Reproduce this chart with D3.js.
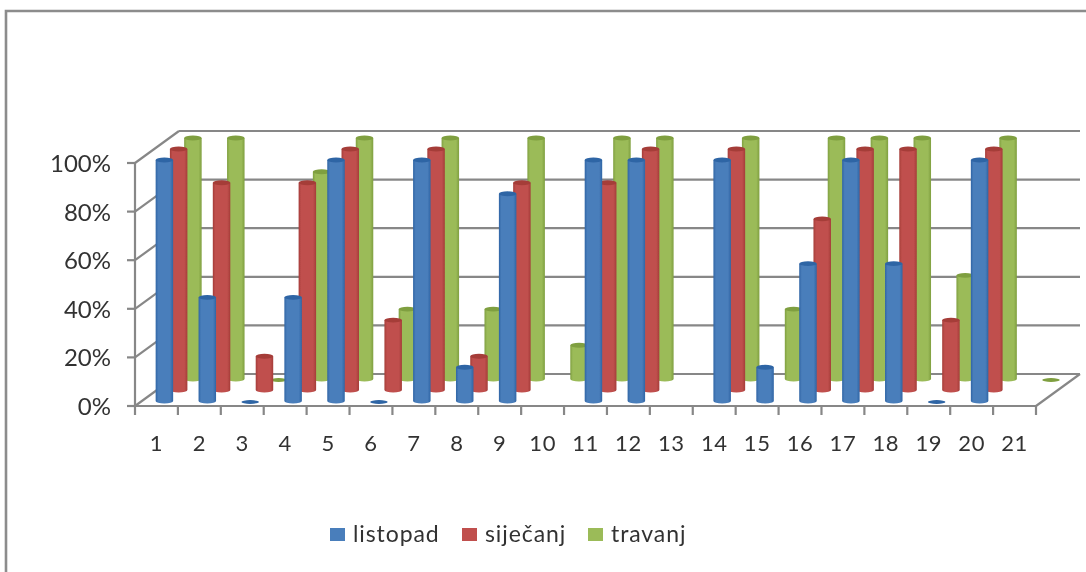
<!DOCTYPE html>
<html>
<head>
<meta charset="utf-8">
<script src="https://cdn.jsdelivr.net/npm/d3@7/dist/d3.min.js"></script>
<style>
html,body{margin:0;padding:0;background:#fff;overflow:hidden}
svg{display:block}
text{font-family:Lato,"Open Sans",sans-serif;fill:#333}
</style>
</head>
<body>
<svg id="c" width="1086" height="572"></svg>
<script>
const categories = d3.range(1, 22).map(String);
const seriesNames = ["listopad", "siječanj", "travanj"];
const listopad = [100,43,0,43,100,0,100,14,86,null,100,100,null,100,14,57,100,57,0,100,null];
const sijecanj = [100,86,14,86,100,29,100,14,86,null,86,100,null,100,null,71,100,100,29,100,null];
const travanj  = [100,100,0,86,100,29,100,29,100,14,100,100,null,100,29,100,100,100,43,100,0];
const seriesValues = [listopad, sijecanj, travanj];
const seriesColors = ["#4a7ebb", "#c0504d", "#9bbb59"];
const seriesDark   = ["#2f65a5", "#a53c39", "#7f9f3f"];
const yTicks = [0,20,40,60,80,100];

const svg = d3.select("#c");
const defs = svg.append("defs");
const blur = defs.append("filter").attr("id","soft").attr("x","-5%").attr("y","-5%").attr("width","110%").attr("height","110%");
blur.append("feGaussianBlur").attr("stdDeviation",0.55);

seriesColors.forEach((c,k)=>{
  const g = defs.append("linearGradient").attr("id","cyl"+k);
  const c0 = d3.color(c);
  g.append("stop").attr("offset","0%").attr("stop-color",seriesDark[k]);
  g.append("stop").attr("offset","15%").attr("stop-color",c0.formatHex());
  g.append("stop").attr("offset","82%").attr("stop-color",c0.formatHex());
  g.append("stop").attr("offset","100%").attr("stop-color",seriesDark[k]);
});

const root = svg.append("g").attr("filter","url(#soft)");

// page frame
root.append("path").attr("d", d3.line()([[6,572],[6,11],[1086,11]]))
  .attr("fill","none").attr("stroke","#8c8c8c").attr("stroke-width",2.6);

// scales
const x = d3.scaleLinear().domain([0,21]).range([135,1036]);
const y = d3.scaleLinear().domain([0,100]).range([406,163]);
const barY = d3.scaleLinear().domain([0,100]).range([401,160]);
const serX = d3.scalePoint().domain([0,1,2]).range([8,36.5]);
const serY = d3.scalePoint().domain([0,1,2]).range([0,22]);
const wallDx = 44, wallDy = 32;
const gridColor = "#878787";

// walls and gridlines
const grid = root.append("g").attr("stroke",gridColor).attr("stroke-width",2.2).attr("fill","none");
yTicks.forEach(t=>{
  const yy = y(t);
  grid.append("line").attr("x1",x(0)+wallDx).attr("x2",x(21)+wallDx).attr("y1",yy-wallDy).attr("y2",yy-wallDy);
  grid.append("line").attr("x1",x(0)).attr("x2",x(0)+wallDx).attr("y1",yy).attr("y2",yy-wallDy);
  grid.append("line").attr("x1",x(0)-8).attr("x2",x(0)).attr("y1",yy).attr("y2",yy);
});
grid.append("line").attr("x1",x(0)).attr("x2",x(0)).attr("y1",y(100)).attr("y2",y(0));
grid.append("line").attr("x1",x(0)).attr("x2",x(21)).attr("y1",y(0)).attr("y2",y(0));
grid.append("line").attr("x1",x(21)).attr("x2",x(21)+wallDx).attr("y1",y(0)).attr("y2",y(0)-wallDy);
d3.range(0,22).forEach(i=>{
  grid.append("line").attr("x1",x(i)).attr("x2",x(i)).attr("y1",y(0)).attr("y2",y(0)+9);
});

// cylinders, back series first
const bw = 17.5, ry = 2.4;
[2,1,0].forEach(k=>{
  const g = root.append("g");
  seriesValues[k].forEach((v,i)=>{
    if(v===null) return;
    const cx = x(i)+serX(k)+21.4;
    const y0 = barY(0)-serY(k), y1 = barY(v)-serY(k);
    if(v===0){
      g.append("ellipse").attr("cx",cx).attr("cy",y0+1).attr("rx",bw/2).attr("ry",ry-0.5).attr("fill",seriesDark[k]);
      return;
    }
    const l = cx-bw/2, r = cx+bw/2;
    g.append("path")
      .attr("d",`M${l},${y1}L${l},${y0}A${bw/2},${ry} 0 0 0 ${r},${y0}L${r},${y1}Z`)
      .attr("fill",`url(#cyl${k})`);
    g.append("ellipse").attr("cx",cx).attr("cy",y1).attr("rx",bw/2).attr("ry",ry).attr("fill",seriesDark[k]);
  });
});

// y labels
root.append("g").selectAll("text").data(yTicks).join("text")
  .attr("x",111).attr("y",d=>y(d)+9).attr("text-anchor","end")
  .attr("font-size",24).text(d=>d+"%");

// x labels
root.append("g").selectAll("text").data(categories).join("text")
  .attr("x",(d,i)=>x(i)+21.5).attr("y",451).attr("text-anchor","middle")
  .attr("font-size",22).attr("letter-spacing",0.6).text(d=>d);

// legend
const legendX = [330,462,588];
const legend = root.append("g");
seriesNames.forEach((n,k)=>{
  legend.append("rect").attr("x",legendX[k]).attr("y",528).attr("width",15).attr("height",13).attr("fill",seriesColors[k]);
  legend.append("text").attr("x",legendX[k]+23).attr("y",542).attr("font-size",23).attr("letter-spacing",0.9).text(n);
});
</script>
</body>
</html>
